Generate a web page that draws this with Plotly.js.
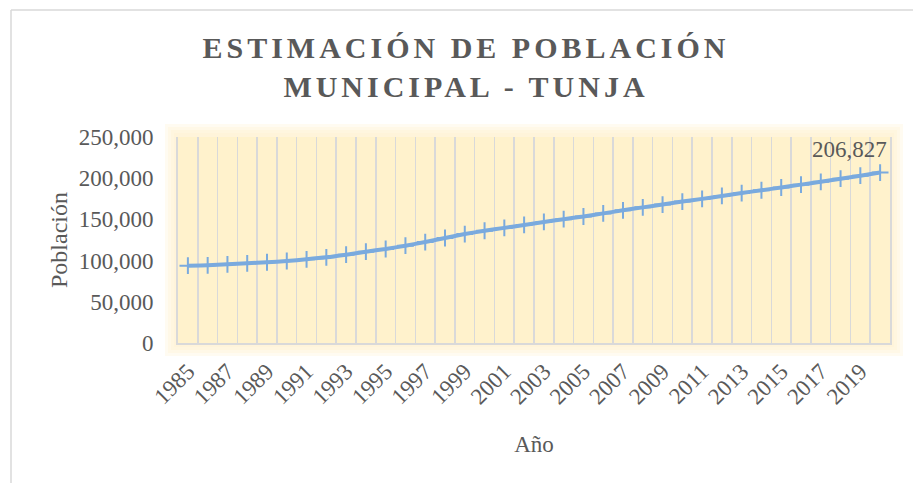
<!DOCTYPE html>
<html>
<head>
<meta charset="utf-8">
<script src="https://cdn.plot.ly/plotly-3.0.1.min.js"></script>
<style>
  html, body { margin: 0; padding: 0; background: #ffffff; }
  #chart { width: 913px; height: 483px; }
</style>
</head>
<body>
<div id="chart"></div>
<script>
// ---- Data ----
const years = [1985, 1986, 1987, 1988, 1989, 1990, 1991, 1992, 1993, 1994,
               1995, 1996, 1997, 1998, 1999, 2000, 2001, 2002, 2003, 2004,
               2005, 2006, 2007, 2008, 2009, 2010, 2011, 2012, 2013, 2014,
               2015, 2016, 2017, 2018, 2019, 2020];
const population = [93800, 94300, 95500, 96700, 98000, 99500, 101600, 104000, 107200, 110800,
                    114100, 118100, 122500, 127400, 132200, 136200, 139700, 143300, 146900, 150300,
                    153500, 157300, 161000, 164600, 168000, 171600, 174900, 178500, 182000, 185400,
                    188700, 192200, 195600, 199400, 203100, 206827];
const titleText = 'ESTIMACIÓN DE POBLACIÓN<br>MUNICIPAL - TUNJA';
const xTitle = 'Año';
const yTitle = 'Población';

// ---- Layout geometry (pixels) ----
const W = 913, H = 483;
const M = {l: 178, r: 23, t: 137, b: 140};
const pw = W - M.l - M.r, ph = H - M.t - M.b;
const px2x = p => (p - M.l) / pw;
const py2y = p => (H - M.b - p) / ph;

const fontFam = '"Liberation Serif", "Times New Roman", serif';
const grey = '#595959';
const yellow = '#FFF2CC';

// soft glow around the plot area
const shapes = [];
[13, 10, 7, 4].forEach(off => {
  shapes.push({
    type: 'rect', xref: 'paper', yref: 'paper', layer: 'below',
    x0: -off / pw, x1: 1 + off / pw, y0: -off / ph, y1: 1 + off / ph,
    fillcolor: yellow, opacity: 0.28, line: {width: 0}
  });
});
shapes.push({
  type: 'rect', xref: 'paper', yref: 'paper', layer: 'below',
  x0: 0, x1: 1, y0: 0, y1: 1, fillcolor: yellow, line: {width: 0}
});
// chart outer border (left and top visible)
shapes.push({type: 'line', xref: 'paper', yref: 'paper',
  x0: px2x(11), x1: px2x(11), y0: py2y(10), y1: py2y(H + 2),
  line: {color: '#D9D9D9', width: 1.5}});
shapes.push({type: 'line', xref: 'paper', yref: 'paper',
  x0: px2x(11), x1: px2x(W + 2), y0: py2y(10), y1: py2y(10),
  line: {color: '#D9D9D9', width: 1.5}});

const lastIdx = years.length - 1;

const trace = {
  type: 'scatter', mode: 'lines+markers',
  x: years, y: population,
  line: {color: '#7AAADE', width: 4, shape: 'spline', smoothing: 0.6},
  marker: {symbol: 'cross-thin', size: 12, color: '#7AAADE',
           line: {color: '#7AAADE', width: 2}},
  hoverinfo: 'x+y'
};

const layout = {
  width: W, height: H,
  margin: M,
  paper_bgcolor: '#FFFFFF',
  plot_bgcolor: 'rgba(0,0,0,0)',
  showlegend: false,
  font: {family: fontFam, color: grey, size: 23},
  title: {
    text: titleText,
    font: {family: fontFam, size: 30, color: grey, weight: 'bold'},
    xref: 'container', x: 466 / W, xanchor: 'center',
    yref: 'container', y: 1 - 58 / H, yanchor: 'top'
  },
  xaxis: {
    type: 'linear',
    range: [1984.5, 2020.5],
    tick0: 1985, dtick: 2,
    tickangle: -45,
    ticks: '',
    ticklabelstandoff: 4,
    showgrid: false,
    zeroline: false,
    showline: true, linecolor: '#D9D9D9', linewidth: 2,
    minor: {tick0: 1984.5, dtick: 1, showgrid: true, gridcolor: '#D9D9D9', gridwidth: 1.5, ticks: ''},
    tickfont: {family: fontFam, size: 23, color: grey},
    title: {text: xTitle, font: {family: fontFam, size: 23, color: grey}, standoff: 28}
  },
  yaxis: {
    range: [0, 250000],
    dtick: 50000,
    tickformat: ',d',
    ticks: '',
    ticklabelstandoff: 18,
    showgrid: false,
    zeroline: false,
    showline: true, linecolor: '#D9D9D9', linewidth: 2, mirror: true,
    tickfont: {family: fontFam, size: 23, color: grey},
    title: {text: yTitle, font: {family: fontFam, size: 24, color: grey}, standoff: 4}
  },
  shapes: shapes,
  annotations: [{
    x: years[lastIdx], y: population[lastIdx], xref: 'x', yref: 'y',
    text: population[lastIdx].toLocaleString('en-US'),
    showarrow: false, xanchor: 'right', yanchor: 'bottom',
    xshift: 9, yshift: 9,
    font: {family: fontFam, size: 23, color: grey}
  }]
};

Plotly.newPlot('chart', [trace], layout, {displayModeBar: false, staticPlot: true}).then(() => {
  document.querySelectorAll('.gtitle').forEach(e => { e.style.letterSpacing = '4px'; });
});
</script>
</body>
</html>
